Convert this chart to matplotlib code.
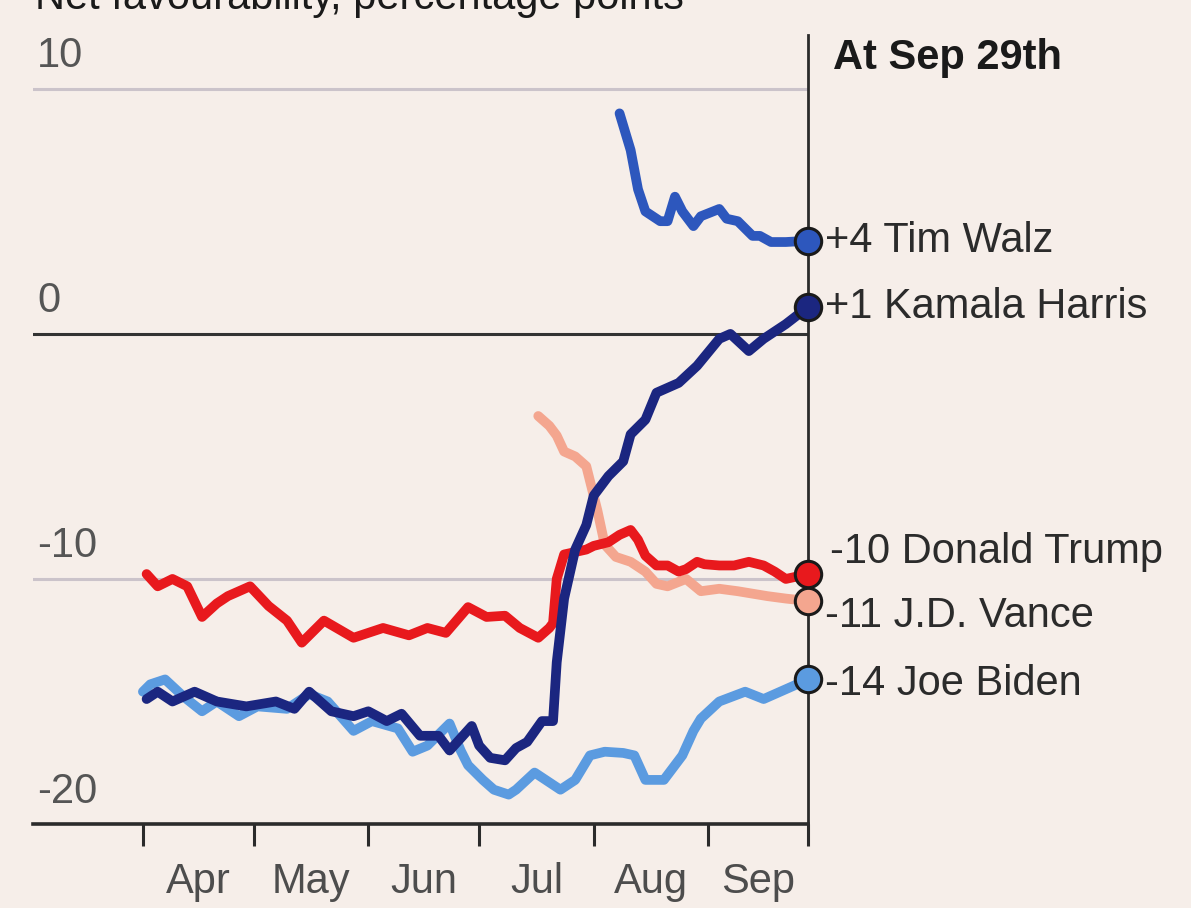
import pandas as pd
import matplotlib
matplotlib.use('Agg')
import matplotlib.pyplot as plt

BG = '#f6eee9'
plt.rcParams['font.family'] = ['Liberation Sans', 'DejaVu Sans']

# net favourability, percentage points
harris_dates = ['2024-04-02', '2024-04-05', '2024-04-09', '2024-04-15', '2024-04-21', '2024-04-29',
                '2024-05-07', '2024-05-12', '2024-05-16', '2024-05-22', '2024-05-28', '2024-06-01',
                '2024-06-06', '2024-06-10', '2024-06-15', '2024-06-20', '2024-06-23', '2024-06-29',
                '2024-07-01', '2024-07-04', '2024-07-08', '2024-07-11', '2024-07-14', '2024-07-18',
                '2024-07-21', '2024-07-22', '2024-07-24', '2024-07-27', '2024-07-30', '2024-08-01',
                '2024-08-05', '2024-08-09', '2024-08-11', '2024-08-15', '2024-08-18', '2024-08-24',
                '2024-08-29', '2024-09-04', '2024-09-07', '2024-09-12', '2024-09-16', '2024-09-22',
                '2024-09-28']
harris_vals = [-14.9, -14.6, -15.0, -14.6, -15.0, -15.2,
               -15.0, -15.3, -14.6, -15.4, -15.6, -15.4,
               -15.8, -15.5, -16.4, -16.4, -17.0, -16.0,
               -16.8, -17.3, -17.4, -16.9, -16.65, -15.8,
               -15.8, -13.4, -10.8, -8.8, -7.8, -6.6,
               -5.8, -5.2, -4.1, -3.5, -2.4, -2.0,
               -1.3, -0.2, 0.0, -0.7, -0.2, 0.4,
               1.1]

walz_dates = ['2024-08-08', '2024-08-11', '2024-08-13', '2024-08-15', '2024-08-19', '2024-08-21',
              '2024-08-23', '2024-08-25', '2024-08-28', '2024-08-30', '2024-09-04', '2024-09-06',
              '2024-09-09', '2024-09-13', '2024-09-15', '2024-09-18', '2024-09-22', '2024-09-28']
walz_vals = [9.0, 7.5, 5.9, 5.0, 4.6, 4.6,
             5.6, 5.0, 4.4, 4.8, 5.1, 4.7,
             4.6, 4.0, 4.0, 3.75, 3.75, 3.8]

biden_dates = ['2024-04-01', '2024-04-03', '2024-04-07', '2024-04-12', '2024-04-17', '2024-04-21',
               '2024-04-27', '2024-05-02', '2024-05-10', '2024-05-16', '2024-05-21', '2024-05-28',
               '2024-06-02', '2024-06-09', '2024-06-13', '2024-06-17', '2024-06-23', '2024-06-26',
               '2024-06-28', '2024-07-02', '2024-07-05', '2024-07-09', '2024-07-11', '2024-07-16',
               '2024-07-20', '2024-07-23', '2024-07-27', '2024-07-31', '2024-08-04', '2024-08-09',
               '2024-08-12', '2024-08-15', '2024-08-20', '2024-08-25', '2024-08-28', '2024-08-30',
               '2024-09-04', '2024-09-11', '2024-09-16', '2024-09-22', '2024-09-28']
biden_vals = [-14.6, -14.3, -14.1, -14.8, -15.4, -15.0,
              -15.6, -15.2, -15.3, -14.7, -15.0, -16.2,
              -15.8, -16.1, -17.05, -16.8, -15.9, -17.0,
              -17.6, -18.2, -18.6, -18.8, -18.6, -17.9,
              -18.3, -18.6, -18.2, -17.2, -17.05, -17.1,
              -17.2, -18.2, -18.2, -17.2, -16.2, -15.7,
              -15.0, -14.6, -14.9, -14.5, -14.1]

trump_dates = ['2024-04-02', '2024-04-05', '2024-04-09', '2024-04-13', '2024-04-17', '2024-04-21',
               '2024-04-24', '2024-04-30', '2024-05-05', '2024-05-10', '2024-05-14', '2024-05-20',
               '2024-05-28', '2024-06-05', '2024-06-12', '2024-06-17', '2024-06-22', '2024-06-28',
               '2024-07-03', '2024-07-08', '2024-07-12', '2024-07-17', '2024-07-20', '2024-07-21',
               '2024-07-22', '2024-07-24', '2024-07-30', '2024-08-01', '2024-08-05', '2024-08-08',
               '2024-08-11', '2024-08-13', '2024-08-15', '2024-08-18', '2024-08-21', '2024-08-24',
               '2024-08-26', '2024-08-29', '2024-08-31', '2024-09-04', '2024-09-08', '2024-09-12',
               '2024-09-16', '2024-09-19', '2024-09-22', '2024-09-28']
trump_vals = [-9.8, -10.3, -10.0, -10.3, -11.55, -11.0,
              -10.7, -10.3, -11.1, -11.7, -12.6, -11.7,
              -12.4, -12.0, -12.3, -12.0, -12.2, -11.15,
              -11.55, -11.5, -12.0, -12.4, -12.0, -11.8,
              -10.0, -9.0, -8.8, -8.65, -8.5, -8.2,
              -8.0, -8.4, -9.05, -9.45, -9.45, -9.7,
              -9.6, -9.3, -9.4, -9.45, -9.45, -9.3,
              -9.45, -9.7, -10.0, -9.8]

vance_dates = ['2024-07-17', '2024-07-20', '2024-07-22', '2024-07-24', '2024-07-27', '2024-07-30',
               '2024-07-31', '2024-08-02', '2024-08-04', '2024-08-07', '2024-08-11', '2024-08-15',
               '2024-08-18', '2024-08-21', '2024-08-26', '2024-08-30', '2024-09-04', '2024-09-09',
               '2024-09-13', '2024-09-17', '2024-09-22', '2024-09-28']
vance_vals = [-3.35, -3.75, -4.15, -4.8, -5.0, -5.4,
              -6.0, -7.2, -8.6, -9.1, -9.3, -9.7,
              -10.2, -10.3, -10.0, -10.5, -10.4, -10.5,
              -10.6, -10.7, -10.8, -10.9]

names = ['Joe Biden', 'J.D. Vance', 'Donald Trump', 'Tim Walz', 'Kamala Harris']
series_dates = [biden_dates, vance_dates, trump_dates, walz_dates, harris_dates]
series_vals = [biden_vals, vance_vals, trump_vals, walz_vals, harris_vals]
end_labels = ['-14', '-11', '-10', '+4', '+1']
colors = ['#5b9be0', '#f4a68f', '#e8191d', '#2d57bd', '#1b2680']
label_offsets = [(12, -3), (12, -11), (16, 16), (12, 0), (12, 0)]

month_starts = ['2024-04-01', '2024-05-01', '2024-06-01', '2024-07-01', '2024-08-01', '2024-09-01']
month_names = ['Apr', 'May', 'Jun', 'Jul', 'Aug', 'Sep']
end_date = '2024-09-28'

fig = plt.figure(figsize=(11.91, 9.08), dpi=100, facecolor=BG)
ax = fig.add_axes([0.0277, 0.0925, 0.6507, 0.869], facecolor=BG)

ax.set_ylim(-20, 12.2)
ax.set_xlim(pd.Timestamp('2024-03-02 06:00'), pd.Timestamp(end_date))

for v in [10, -10]:
    ax.axhline(v, color='#cbc3ca', lw=2.2, zorder=1)
ax.axhline(0, color='#333333', lw=2.2, zorder=1)
for v in [10, 0, -10, -20]:
    ax.annotate(str(v), xy=(0, v), xycoords=('axes fraction', 'data'), xytext=(3, 9),
                textcoords='offset points', ha='left', va='bottom', fontsize=30, color='#555555')

for name, d, v, c, lab, off in zip(names, series_dates, series_vals, colors, end_labels, label_offsets):
    x = pd.to_datetime(d)
    ax.plot(x, v, color=c, lw=7, solid_capstyle='round', solid_joinstyle='round', zorder=3)
    ax.plot(x[-1:], v[-1:], 'o', ms=19, mfc=c, mec='#1a1a1a', mew=2.2, clip_on=False, zorder=6)
    ax.annotate(lab + ' ' + name, xy=(x[-1], v[-1]), xytext=off, textcoords='offset points',
                ha='left', va='center', fontsize=30, color='#2b2b2b', annotation_clip=False)

for s in ['left', 'top']:
    ax.spines[s].set_visible(False)
ax.spines['bottom'].set_color('#2b2b2b')
ax.spines['bottom'].set_linewidth(2.6)
ax.spines['right'].set_color('#2b2b2b')
ax.spines['right'].set_linewidth(2.0)

ticks = pd.to_datetime(month_starts + [end_date])
ax.set_xticks(ticks)
ax.set_xticklabels([])
mids = [ticks[i] + (ticks[i + 1] - ticks[i]) / 2 for i in range(len(ticks) - 1)]
ax.set_xticks(mids, minor=True)
ax.set_xticklabels(month_names, minor=True)
ax.tick_params(axis='x', which='major', direction='out', length=16, width=2.2, color='#2b2b2b')
ax.tick_params(axis='x', which='minor', length=0, pad=27, labelsize=30, labelcolor='#4d4d4d')
ax.set_yticks([])

fig.text(833 / 1191, 1 - 58 / 908, 'At Sep 29th', ha='left', va='center', fontsize=30,
         fontweight='bold', color='#1a1a1a')
fig.text(35 / 1191, 1 - 9 / 908, 'Net favourability, percentage points', ha='left', va='baseline',
         fontsize=30, color='#1a1a1a')

fig.savefig('out.png', dpi=100, facecolor=BG)
